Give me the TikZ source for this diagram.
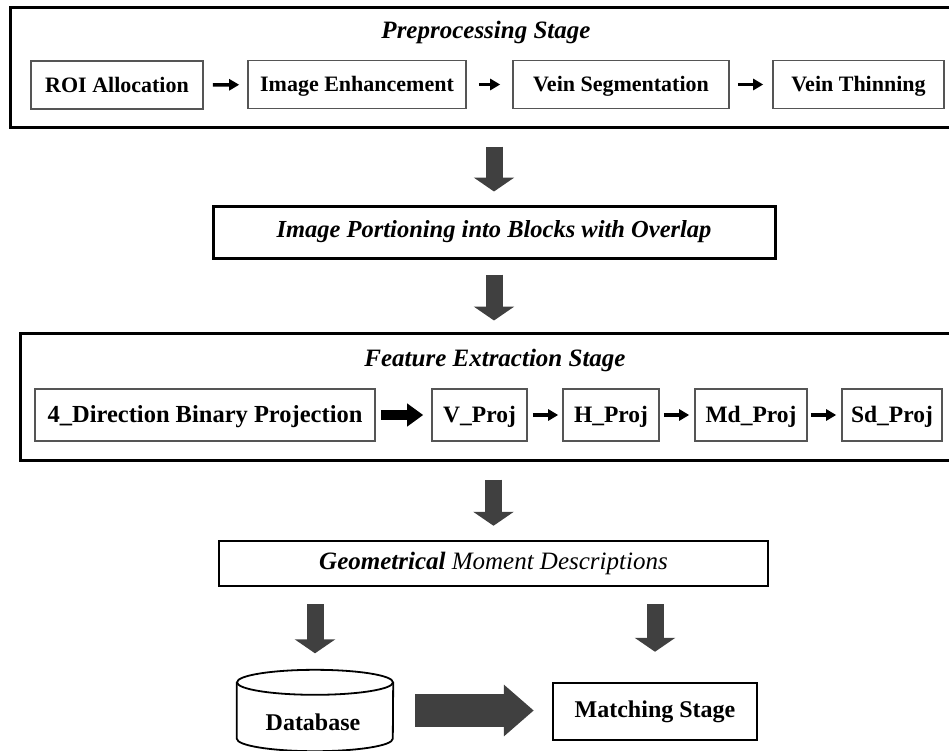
\documentclass[tikz,border=0pt]{standalone}
\usepackage{fontspec}
\setmainfont{Liberation Serif}
\usetikzlibrary{arrows.meta}
\definecolor{arrowgray}{HTML}{404040}
\definecolor{boxgray}{HTML}{555555}
\begin{document}
\begin{tikzpicture}[x=1pt, y=-1pt,
  stage/.style={draw, line width=3pt},
  inbox/.style={draw=boxgray, line width=1.6pt, inner sep=0pt, text height=16pt, text depth=1.5pt,
    font=\fontsize{22}{25}\selectfont\bfseries},
  projbox/.style={inbox, minimum height=52pt, font=\fontsize{23.5}{27}\selectfont\bfseries},
  title/.style={font=\fontsize{25}{29}\selectfont\bfseries\itshape},
  smallarrow/.style={line width=3.5pt, -{Triangle[length=10pt,width=11pt]}},
  fatarrow/.style={line width=10pt, -{Triangle[length=16pt,width=22pt]}},
  bigarrow/.style={draw=arrowgray, line width=17pt, -{Triangle[length=14pt,width=40pt]}}]
\useasboundingbox (0,0) rectangle (949,750);
\clip (0,0) rectangle (949,750);
% preprocessing
\node[stage, minimum width=941pt, minimum height=120pt] (prep) at (480.5,67) {};
\node[title] (preptitle) at (486,32) {Preprocessing Stage};
\node[inbox, minimum width=172pt, minimum height=48pt] (roi) at (117,85) {ROI Allocation};
\node[inbox, minimum width=218pt, minimum height=48pt] (enh) at (357,84.5) {Image Enhancement};
\node[inbox, minimum width=216pt, minimum height=48pt] (seg) at (621,84.5) {Vein Segmentation};
\node[inbox, minimum width=171pt, minimum height=48pt] (thin) at (858.5,84.5) {Vein Thinning};
\draw[smallarrow, shorten <=9pt, shorten >=8pt] (roi) -- (enh);
\draw[smallarrow, shorten <=12pt, shorten >=12pt] (enh) -- (seg);
\draw[smallarrow, shorten <=8pt, shorten >=9pt] (seg) -- (thin);
% portioning
\node[stage, minimum width=562pt, minimum height=52pt,
  font=\fontsize{24.5}{28}\selectfont\bfseries\itshape] (portion) at (494,232)
  {Image Portioning into Blocks with Overlap};
\draw[bigarrow, shorten <=18pt, shorten >=13pt] (portion.north |- prep.south) -- (portion.north);
% feature extraction
\node[stage, minimum width=931pt, minimum height=127pt] (feat) at (485.5,396.5) {};
\node[title] (feattitle) at (495,360) {Feature Extraction Stage};
\node[projbox, minimum width=340pt, font=\fontsize{24.5}{28}\selectfont\bfseries] (dir) at (205,415) {4\_Direction Binary Projection};
\node[projbox, minimum width=95pt] (vp) at (479.5,415) {V\_Proj};
\node[projbox, minimum width=96pt] (hp) at (611,415) {H\_Proj};
\node[projbox, minimum width=112pt] (mdp) at (751,415) {Md\_Proj};
\node[projbox, minimum width=100pt] (sdp) at (892,415) {Sd\_Proj};
\draw[fatarrow, shorten <=5pt, shorten >=8pt] (dir) -- (vp);
\draw[smallarrow, shorten <=5pt, shorten >=4pt] (vp) -- (hp);
\draw[smallarrow, shorten <=4pt, shorten >=5pt] (hp) -- (mdp);
\draw[smallarrow, shorten <=3pt, shorten >=5pt] (mdp) -- (sdp);
\draw[bigarrow, shorten <=15pt, shorten >=11pt] (portion.south) -- (portion.south |- feat.north);
% moments
\node[draw, line width=2.5pt, minimum width=549pt, minimum height=45pt,
  font=\fontsize{25}{29}\selectfont] (geom) at (493.5,563.5)
  {\textbf{\textit{Geometrical}} \textit{Moment Descriptions}\hspace{30pt}};
\draw[bigarrow, shorten <=18pt, shorten >=14pt] (geom.north |- feat.south) -- (geom.north);
% database and matching
\node[minimum width=156pt, minimum height=56pt, inner sep=0pt] (db) at (315,710.5) {};
\draw[line width=1.8pt] (db.north) ellipse [x radius=78, y radius=12.5];
\draw[line width=1.8pt] (db.north west) -- (db.south west)
  arc[start angle=180, end angle=0, x radius=78, y radius=12.5] -- (db.north east);
\node[font=\fontsize{24}{28}\selectfont\bfseries] (dbname) at (313,722) {Database};
\node[draw, line width=2.5pt, minimum width=204pt, minimum height=57pt,
  font=\fontsize{24}{28}\selectfont\bfseries] (match) at (655,711.5) {Matching Stage};
\draw[bigarrow, shorten <=17pt, shorten >=29pt] (db.north |- geom.south) -- (db.north);
\draw[bigarrow, shorten <=17pt, shorten >=30pt] (match.north |- geom.south) -- (match.north);
\draw[bigarrow, line width=33pt, -{Triangle[length=30pt,width=50pt]}, shorten <=22pt, shorten >=18pt]
  (db.east) -- (db.east -| match.west);
\end{tikzpicture}
\end{document}
